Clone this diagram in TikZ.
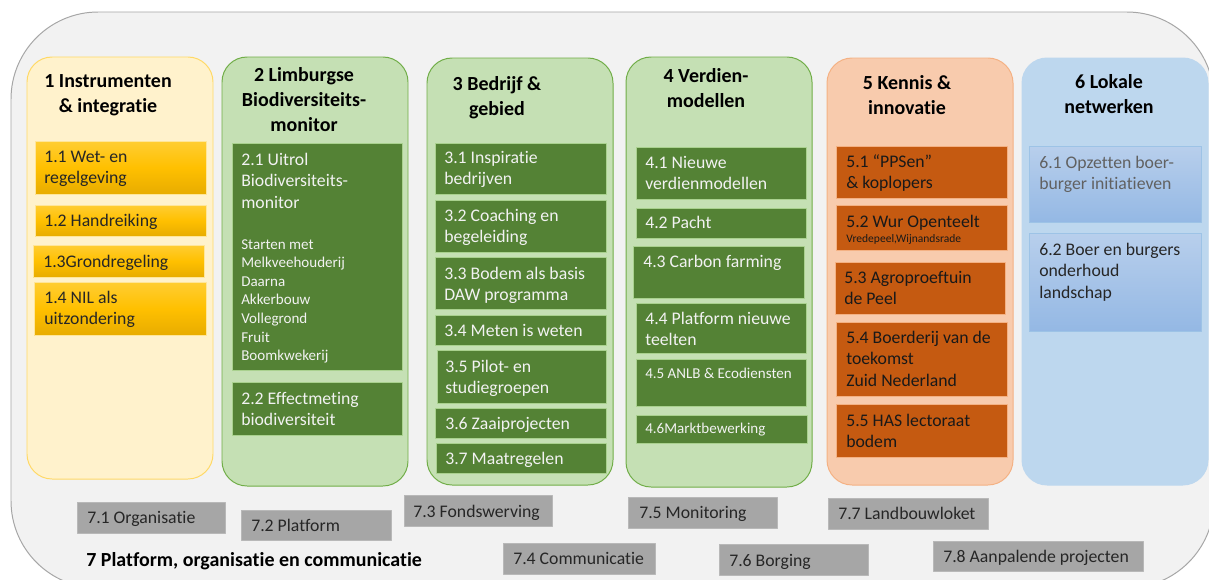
\documentclass[tikz,border=0pt]{standalone}
\usepackage{fontspec}
\setmainfont{Carlito}[Ligatures={TeX,NoCommon,NoRequired,NoContextual},Contextuals=NoAlternate]
\usepackage{tikz}
\usetikzlibrary{fit}

\definecolor{framefill}{HTML}{F2F2F2}
\definecolor{frameline}{HTML}{A6A6A6}
\definecolor{yelfill}{HTML}{FFF2CC}
\definecolor{yelline}{HTML}{FFD966}
\definecolor{grnfill}{HTML}{C5E0B4}
\definecolor{grnline}{HTML}{70AD47}
\definecolor{orafill}{HTML}{F8CBAD}
\definecolor{oraline}{HTML}{F4B183}
\definecolor{blufill}{HTML}{BDD7EE}
\definecolor{ytop}{HTML}{FFCD33}
\definecolor{ymid}{HTML}{FFC000}
\definecolor{ybot}{HTML}{E8AC00}
\definecolor{ybord}{HTML}{FFE699}
\definecolor{dkgreen}{HTML}{548235}
\definecolor{ltgreen}{HTML}{A9D18E}
\definecolor{dkorange}{HTML}{C55A11}
\definecolor{btop}{HTML}{B8CFEC}
\definecolor{bbot}{HTML}{94B8E4}
\definecolor{bbord}{HTML}{9DC3E6}
\definecolor{boxgray}{HTML}{A6A6A6}
\definecolor{inkdark}{HTML}{262626}

\begin{document}
\begin{tikzpicture}[x=0.025cm,y=-0.025cm,line join=round,
  frame/.style={inner sep=0pt,rounded corners=62pt,fill=framefill,draw=frameline,line width=0.7pt},
  colbox/.style={inner sep=0pt,rounded corners=17.8pt,line width=0.7pt},
  ybox/.style={inner sep=0pt,draw=ybord,line width=0.5pt,top color=ytop,bottom color=ybot,middle color=ymid},
  gbox/.style={inner sep=0pt,draw=ltgreen,line width=0.5pt,fill=dkgreen},
  obox/.style={inner sep=0pt,draw=oraline,line width=0.5pt,fill=dkorange},
  bbox/.style={inner sep=0pt,draw=bbord,line width=0.5pt,top color=btop,bottom color=bbot},
  graybox/.style={inner sep=0pt,fill=boxgray,draw=boxgray!80!white,line width=0.4pt},
  ttl/.style={inner sep=0pt,anchor=north,align=center,text=black,font=\fontsize{14.2}{17.8}\selectfont\bfseries},
  txt/.style={inner sep=0pt,anchor=north west,align=left,font=\fontsize{12.6}{15.3}\selectfont},
  smalltxt/.style={inner sep=0pt,anchor=north west,align=left,font=\fontsize{10.7}{13.2}\selectfont},
  graytxt/.style={inner sep=0pt,anchor=base west,text=inkdark,font=\fontsize{12.6}{15.3}\selectfont}]
\useasboundingbox (0,0) rectangle (1209,579);
\clip (0,0) rectangle (1209,579);
\fill[white] (0,0) rectangle (1209,579);
\node[frame,fit={(11,12) (1214,588)}] (outer) {};
% columns
\node[colbox,fill=yelfill,draw=yelline,fit={(27,57) (213,479)}] (c1) {};
\node[colbox,fill=grnfill,draw=grnline,fit={(222,57) (408,486)}] (c2) {};
\node[colbox,fill=grnfill,draw=grnline,fit={(427,58) (613,485)}] (c3) {};
\node[colbox,fill=grnfill,draw=grnline,fit={(626,57) (812,487)}] (c4) {};
\node[colbox,fill=orafill,draw=oraline,fit={(827,58) (1013,485)}] (c5) {};
\node[colbox,fill=blufill,draw=blufill,fit={(1022,58) (1208,485)}] (c6) {};
\node[ttl] (tt1) at (108,69.5) {\strut 1 Instrumenten\\\& integratie};
\node[ttl] (tt2) at (304,63.5) {\strut 2 Limburgse\\Biodiversiteits-\\monitor};
\node[ttl] (tt3) at (497,72.5) {\strut 3 Bedrijf \&\\gebied};
\node[ttl] (tt4) at (706,64.5) {\strut 4 Verdien-\\modellen};
\node[ttl] (tt5) at (907,71.5) {\strut 5 Kennis \&\\innovatie};
\node[ttl] (tt6) at (1109,70.5) {\strut 6 Lokale\\netwerken};
% 1
\node[ybox,fit={(35,141) (206,194)}] (b11) {};
\node[ybox,fit={(35,205) (206,236)}] (b12) {};
\node[ybox,fit={(33,245) (204,277)}] (b13) {};
\node[ybox,fit={(34,282) (206,335)}] (b14) {};
\node[txt,text=inkdark] (t11) at (44,147) {\strut 1.1 Wet- en\\regelgeving};
\node[txt,text=inkdark] (t12) at (44,211) {\strut 1.2 Handreiking};
\node[txt,text=inkdark] (t13) at (43,252) {\strut 1.3Grondregeling};
\node[txt,text=inkdark] (t14) at (44,288) {\strut 1.4 NIL als\\uitzondering};
% 2
\node[gbox,fit={(232,143) (402,370)}] (b21) {};
\node[gbox,fit={(232,382) (402,435)}] (b22) {};
\node[txt,text=framefill] (t21) at (241,150) {\strut 2.1 Uitrol\\Biodiversiteits-\\monitor};
\node[smalltxt,text=framefill] (t21b) at (241,236) {\strut Starten met\\Melkveehouderij\\Daarna\\Akkerbouw\\Vollegrond\\Fruit\\Boomkwekerij};
\node[txt,text=framefill] (t22) at (241,389) {\strut 2.2 Effectmeting\\biodiversiteit};
% 3
\node[gbox,fit={(435,143) (606,194)}] (b31) {};
\node[gbox,fit={(435,200) (606,252)}] (b32) {};
\node[gbox,fit={(435,257) (606,309)}] (b33) {};
\node[gbox,fit={(435,315) (606,345)}] (b34) {};
\node[gbox,fit={(437,350) (606,403)}] (b35) {};
\node[gbox,fit={(435,408) (606,438)}] (b36) {};
\node[gbox,fit={(436,443) (606,473)}] (b37) {};
\node[txt,text=framefill] (t31) at (444,148) {\strut 3.1 Inspiratie\\bedrijven};
\node[txt,text=framefill] (t32) at (444,206) {\strut 3.2 Coaching en\\begeleiding};
\node[txt,text=framefill] (t33) at (444,264) {\strut 3.3 Bodem als basis\\DAW programma};
\node[txt,text=framefill] (t34) at (444,321) {\strut 3.4 Meten is weten};
\node[txt,text=framefill] (t35) at (445,357) {\strut 3.5 Pilot- en\\studiegroepen};
\node[txt,text=framefill] (t36) at (445,414) {\strut 3.6 Zaaiprojecten};
\node[txt,text=framefill] (t37) at (445,449) {\strut 3.7 Maatregelen};
% 4
\node[gbox,fit={(636,147) (806,199)}] (b41) {};
\node[gbox,fit={(636,208) (806,238)}] (b42) {};
\node[gbox,fit={(633,246) (804,298)}] (b43) {};
\node[gbox,fit={(636,303) (806,353)}] (b44) {};
\node[gbox,fit={(636,359) (806,406)}] (b45) {};
\node[gbox,fit={(636,415) (807,443)}] (b46) {};
\node[txt,text=framefill] (t41) at (645,153) {\strut 4.1 Nieuwe\\verdienmodellen};
\node[txt,text=framefill] (t42) at (645,213) {\strut 4.2 Pacht};
\node[txt,text=framefill] (t43) at (643,252) {\strut 4.3 Carbon farming};
\node[txt,text=framefill] (t44) at (645,309) {\strut 4.4 Platform nieuwe\\teelten};
\node[smalltxt,text=framefill] (t45) at (645,365) {\strut 4.5 ANLB \& Ecodiensten};
\node[smalltxt,text=framefill] (t46) at (645,420) {\strut 4.6Marktbewerking};
% 5
\node[obox,fit={(836,146) (1007,198)}] (b51) {};
\node[obox,fit={(836,205) (1007,250)}] (b52) {};
\node[obox,fit={(835,262) (1005,314)}] (b53) {};
\node[obox,fit={(836,322) (1007,396)}] (b54) {};
\node[obox,fit={(836,404) (1007,457)}] (b55) {};
\node[txt,text=black!90] (t51) at (846,152) {\strut 5.1 “PPSen”\\\& koplopers};
\node[txt,text=black!90] (t52) at (846,212) {\strut 5.2 Wur Openteelt\\[-4.6pt]{\fontsize{8.2}{10}\selectfont Vredepeel,Wijnandsrade}};
\node[txt,text=black!90] (t53) at (844,268) {\strut 5.3 Agroproeftuin\\de Peel};
\node[txt,text=black!90] (t54) at (846,328) {\strut 5.4 Boerderij van de\\toekomst\\Zuid Nederland};
\node[txt,text=black!90] (t55) at (846,411) {\strut 5.5 HAS lectoraat\\bodem};
% 6
\node[bbox,fit={(1029,146) (1201,222)}] (b61) {};
\node[bbox,fit={(1029,233) (1201,331)}] (b62) {};
\node[txt,text=black!62] (t61) at (1039,153) {\strut 6.1 Opzetten boer-\\burger initiatieven};
\node[txt,text=inkdark] (t62) at (1039,240) {\strut 6.2 Boer en burgers\\onderhoud\\landschap};
% 7
\node[graybox,fit={(77,502) (225,533)}] (g71) {};
\node[graybox,fit={(241,510) (391,540)}] (g72) {};
\node[graybox,fit={(404,495) (552,526)}] (g73) {};
\node[graybox,fit={(503,543) (655,574)}] (g74) {};
\node[graybox,fit={(628,497) (777,528)}] (g75) {};
\node[graybox,fit={(719,544) (868,575)}] (g76) {};
\node[graybox,fit={(828,498) (988,529)}] (g77) {};
\node[graybox,fit={(933,541) (1143,571)}] (g78) {};
\node[graytxt] (t71) at (87,523) {7.1 Organisatie};
\node[graytxt] (t72) at (251,531) {7.2 Platform};
\node[graytxt] (t73) at (413,517) {7.3 Fondswerving};
\node[graytxt] (t74) at (513,564) {7.4 Communicatie};
\node[graytxt] (t75) at (639,518) {7.5 Monitoring};
\node[graytxt] (t76) at (729,566) {7.6 Borging};
\node[graytxt] (t77) at (838,519) {7.7 Landbouwloket};
\node[graytxt] (t78) at (943,562) {7.8 Aanpalende projecten};
\node[inner sep=0pt,anchor=base west,font=\fontsize{14.2}{17.8}\selectfont\bfseries] (t7) at (86,566) {7 Platform, organisatie en communicatie};
\end{tikzpicture}
\end{document}
